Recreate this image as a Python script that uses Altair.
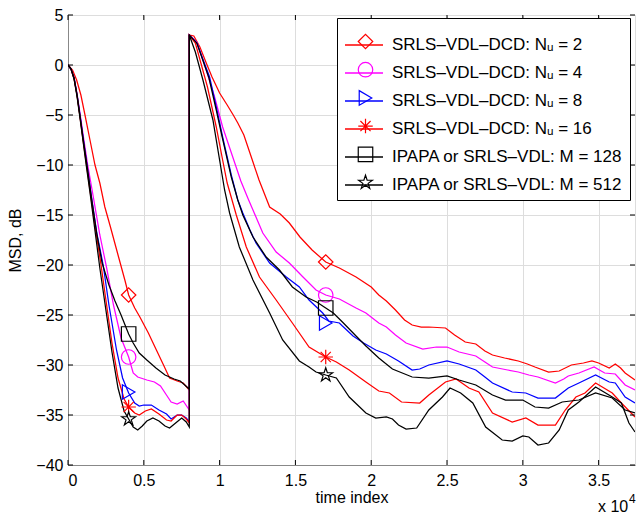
import altair as alt
import pandas as pd

# ---------------- data (x in units of 10^4 samples, y in dB) ----------------
SERIES = [
    "SRLS–VDL–DCD: Nᵤ = 2",
    "SRLS–VDL–DCD: Nᵤ = 4",
    "SRLS–VDL–DCD: Nᵤ = 8",
    "SRLS–VDL–DCD: Nᵤ = 16",
    "IPAPA or SRLS–VDL: M = 128",
    "IPAPA or SRLS–VDL: M = 512",
]
MARKER_KEYS = ["m1", "m2", "m3", "m4", "m5", "m6"]
COLORS = ["#ff0000", "#ff00ff", "#0000ff", "#ff0000", "#000000", "#000000"]
ASTERISK = "M-1,0L1,0M0,-1L0,1M-0.7,-0.7L0.7,0.7M-0.7,0.7L0.7,-0.7"
STAR = ("M0,-1L0.225,-0.309L0.951,-0.309L0.363,0.118L0.588,0.809L0,0.382"
        "L-0.588,0.809L-0.363,0.118L-0.951,-0.309L-0.225,-0.309Z")
SHAPES = ["diamond", "circle", "triangle-right", ASTERISK, "square", STAR]

nu2 = [(0, 0), (0.03, -0.5), (0.057, -1.5), (0.085, -3.0), (0.112, -5.0), (0.145, -7.5), (0.178, -10.0),
       (0.21, -11.8), (0.243, -14.2), (0.28, -16.2), (0.33, -19.0), (0.375, -21.5), (0.4, -23.0),
       (0.44, -24.3), (0.474, -25.2), (0.53, -26.8), (0.583, -28.5), (0.63, -30.0), (0.67, -31.3),
       (0.72, -31.6), (0.76, -31.8), (0.8, -32.5),
       (0.8, 3.0), (0.83, 2.9), (0.87, 1.8), (0.912, 0.2), (0.95, -1.2), (1.0, -2.8), (1.05, -4.0),
       (1.09, -5.0), (1.12, -5.8), (1.16, -7.0), (1.2, -8.8), (1.26, -11.5), (1.33, -14.2), (1.4, -14.9),
       (1.46, -15.8), (1.53, -17.2), (1.61, -18.5), (1.7, -19.7), (1.79, -20.3), (1.9, -21.2),
       (2.0, -22.2), (2.05, -23.0), (2.1, -23.6), (2.16, -24.5), (2.22, -25.5), (2.27, -26.0),
       (2.33, -26.2), (2.38, -26.2), (2.49, -26.3), (2.55, -27.0), (2.62, -27.7), (2.69, -27.9),
       (2.75, -28.6), (2.8, -29.0), (2.88, -29.3), (2.97, -29.6), (3.03, -29.9), (3.08, -30.2),
       (3.17, -30.7), (3.24, -30.6), (3.32, -30.0), (3.4, -29.8), (3.456, -29.6), (3.5, -29.8),
       (3.57, -30.3), (3.61, -29.9), (3.645, -30.3), (3.675, -30.8), (3.74, -31.5)]

nu4 = [(0, 0), (0.02, -0.4), (0.04, -1.3), (0.06, -2.9), (0.08, -4.9), (0.1, -7.0), (0.13, -10.0),
       (0.167, -13.2), (0.21, -17.0), (0.255, -20.3), (0.3, -24.0), (0.35, -27.3), (0.4, -29.2),
       (0.43, -30.8), (0.46, -31.2), (0.52, -31.5), (0.57, -31.7), (0.61, -32.1), (0.645, -32.9),
       (0.68, -33.7), (0.72, -33.9), (0.76, -33.6), (0.8, -34.5),
       (0.8, 3.0), (0.85, 2.3), (0.912, -0.5), (0.967, -3.2), (1.02, -6.2), (1.06, -8.0), (1.1, -9.8),
       (1.14, -11.6), (1.186, -13.3), (1.22, -14.5), (1.285, -16.8), (1.373, -18.7), (1.46, -19.8),
       (1.55, -21.2), (1.636, -22.5), (1.7, -23.0), (1.79, -23.4), (1.9, -24.3), (1.965, -24.8),
       (2.05, -25.8), (2.1, -26.2), (2.16, -27.0), (2.23, -27.8), (2.34, -28.4), (2.43, -28.2),
       (2.5, -28.2), (2.58, -28.7), (2.69, -29.1), (2.75, -29.7), (2.8, -30.2), (2.9, -30.5),
       (2.97, -30.7), (3.04, -31.0), (3.1, -31.2), (3.215, -31.8), (3.27, -31.4), (3.3, -31.1),
       (3.37, -30.8), (3.47, -30.2), (3.54, -30.8), (3.61, -30.9), (3.675, -32.0), (3.74, -32.5)]

nu8 = [(0, 0), (0.02, -0.4), (0.04, -1.3), (0.06, -3.0), (0.08, -5.1), (0.1, -7.3), (0.125, -10.0),
       (0.155, -13.2), (0.19, -16.8), (0.232, -20.0), (0.27, -24.0), (0.32, -28.5), (0.36, -31.3),
       (0.4, -32.8), (0.44, -33.8), (0.47, -34.1), (0.5, -34.0), (0.55, -34.0), (0.6, -34.5),
       (0.65, -34.9), (0.68, -35.4), (0.72, -35.0), (0.75, -35.0), (0.78, -35.3), (0.8, -35.7),
       (0.8, 3.0), (0.85, 2.2), (0.934, -1.2), (0.978, -4.2), (1.02, -7.2), (1.077, -11.0), (1.12, -13.5),
       (1.153, -14.8), (1.2, -16.5), (1.24, -17.8), (1.33, -19.8), (1.44, -21.2), (1.526, -22.2),
       (1.59, -23.5), (1.68, -24.8), (1.72, -25.6), (1.79, -25.8), (1.81, -26.1), (1.88, -27.1),
       (1.95, -27.8), (2.03, -28.5), (2.1, -28.9), (2.18, -29.6), (2.27, -30.5), (2.32, -30.4),
       (2.38, -30.0), (2.5, -29.6), (2.58, -29.9), (2.69, -30.5), (2.75, -31.2), (2.8, -31.8),
       (2.93, -32.7), (3.02, -32.8), (3.1, -33.3), (3.215, -33.3), (3.3, -32.3), (3.37, -31.8),
       (3.48, -31.0), (3.57, -31.7), (3.61, -31.8), (3.675, -33.2), (3.74, -33.8)]

nu16 = [(0, 0), (0.02, -0.4), (0.04, -1.4), (0.06, -3.1), (0.08, -5.3), (0.1, -7.6), (0.122, -10.0),
        (0.152, -13.3), (0.185, -16.8), (0.218, -20.0), (0.25, -23.5), (0.29, -27.8), (0.33, -31.3),
        (0.37, -33.4), (0.4, -34.2), (0.44, -34.8), (0.47, -35.0), (0.51, -34.6), (0.55, -34.4),
        (0.6, -34.9), (0.65, -35.5), (0.68, -35.6), (0.72, -35.0), (0.75, -35.0), (0.78, -35.4),
        (0.8, -35.8),
        (0.8, 3.0), (0.84, 2.2), (0.92, -2.2), (0.978, -6.2), (1.02, -9.5), (1.05, -11.8), (1.11, -15.0),
        (1.176, -18.2), (1.263, -21.2), (1.373, -23.5), (1.48, -25.8), (1.59, -28.2), (1.7, -29.2),
        (1.77, -29.7), (1.855, -30.5), (1.965, -31.7), (2.05, -32.6), (2.12, -32.8), (2.2, -33.7),
        (2.32, -33.8), (2.38, -33.0), (2.49, -31.7), (2.56, -31.4), (2.645, -32.3), (2.71, -32.7),
        (2.8, -34.8), (2.93, -35.7), (3.02, -35.3), (3.1, -36.0), (3.215, -36.0), (3.28, -34.5),
        (3.35, -33.2), (3.41, -32.8), (3.48, -31.8), (3.59, -32.8), (3.65, -33.8), (3.74, -35.2)]

m128 = [(0, 0), (0.02, -0.4), (0.04, -1.3), (0.06, -3.0), (0.08, -5.2), (0.1, -7.4), (0.125, -10.0),
        (0.155, -13.3), (0.19, -16.9), (0.225, -19.8), (0.27, -22.0), (0.31, -23.6), (0.35, -25.0),
        (0.4, -26.9), (0.43, -27.8), (0.47, -28.8), (0.52, -29.5), (0.58, -30.3), (0.64, -31.0),
        (0.7, -31.4), (0.74, -31.6), (0.77, -32.0), (0.8, -32.4),
        (0.8, 3.0), (0.85, 2.2), (0.93, -1.3), (0.978, -4.5), (1.02, -7.4), (1.077, -11.2), (1.12, -13.5),
        (1.153, -15.0), (1.22, -17.2), (1.307, -19.2), (1.395, -20.5), (1.48, -22.2), (1.57, -23.2),
        (1.64, -23.7), (1.7, -24.3), (1.75, -24.8), (1.81, -25.7), (1.9, -27.1), (1.965, -28.1),
        (2.05, -29.3), (2.14, -30.4), (2.27, -31.2), (2.38, -31.3), (2.5, -31.1), (2.58, -31.5),
        (2.69, -32.0), (2.8, -33.0), (2.886, -33.5), (3.0, -33.5), (3.08, -34.2), (3.17, -34.3),
        (3.26, -33.7), (3.37, -33.5), (3.48, -32.8), (3.59, -33.3), (3.675, -34.5), (3.74, -34.8)]

m512 = [(0, 0), (0.02, -0.4), (0.04, -1.4), (0.06, -3.2), (0.08, -5.4), (0.1, -7.7), (0.12, -10.0),
        (0.15, -13.3), (0.18, -16.8), (0.21, -20.3), (0.25, -24.5), (0.29, -28.7), (0.33, -32.3),
        (0.37, -34.6), (0.4, -35.4), (0.43, -36.2), (0.46, -36.5), (0.49, -36.1), (0.52, -35.6),
        (0.56, -35.3), (0.6, -35.6), (0.64, -36.1), (0.67, -36.3), (0.71, -35.8), (0.75, -35.3),
        (0.78, -35.7), (0.8, -36.2),
        (0.8, 3.0), (0.84, 1.3), (0.89, -1.5), (0.956, -5.5), (1.0, -9.5), (1.033, -12.5), (1.066, -14.8),
        (1.13, -18.2), (1.22, -21.5), (1.33, -24.8), (1.416, -27.5), (1.526, -29.6), (1.59, -30.2),
        (1.636, -30.7), (1.7, -31.0), (1.77, -31.3), (1.855, -33.2), (1.965, -34.8), (2.03, -35.3),
        (2.1, -35.2), (2.14, -35.4), (2.18, -36.0), (2.23, -36.4), (2.3, -36.3), (2.38, -34.5),
        (2.47, -33.2), (2.52, -32.3), (2.59, -32.8), (2.67, -33.8), (2.755, -36.2), (2.864, -37.5),
        (2.93, -37.6), (3.0, -37.1), (3.04, -37.2), (3.1, -38.0), (3.17, -37.8), (3.24, -36.5),
        (3.3, -34.5), (3.37, -33.7), (3.48, -32.2), (3.59, -33.2), (3.65, -33.8), (3.7, -35.8),
        (3.74, -36.7)]

CURVES = [nu2, nu4, nu8, nu16, m128, m512]

MARKER_X = [0.4, 1.7]
MARKER_Y = [[-23.0, -19.7], [-29.2, -23.0], [-32.7, -25.8], [-34.2, -29.2], [-26.9, -24.3], [-35.4, -31.0]]

X_TICKS = [0, 0.5, 1, 1.5, 2, 2.5, 3, 3.5]
Y_TICKS = [5, 0, -5, -10, -15, -20, -25, -30, -35, -40]

# ---------------- tables ----------------
rows = []
for name, pts in zip(SERIES, CURVES):
    for k, (xv, yv) in enumerate(pts):
        rows.append({"curve": name, "x": xv, "y": yv, "k": k})
lines_df = pd.DataFrame(rows)

mrows = []
for key, ys in zip(MARKER_KEYS, MARKER_Y):
    for xv, yv in zip(MARKER_X, ys):
        mrows.append({"mk": key, "x": xv, "y": yv})
marks_df = pd.DataFrame(mrows)

xt_df = pd.DataFrame({"v": X_TICKS})
yt_df = pd.DataFrame({"v": Y_TICKS})

FONT = "Liberation Sans"
W, H = 567, 450

xscale = alt.Scale(domain=[0, 3.74], nice=False, zero=False)
yscale = alt.Scale(domain=[-40, 5], nice=False, zero=False)

xaxis = alt.Axis(values=X_TICKS, format="~g", title="time index", grid=True, ticks=False,
                 labelFontSize=16, titleFontSize=16, titleFontWeight="normal",
                 labelPadding=7, titlePadding=1)
yaxis = alt.Axis(values=Y_TICKS, title="MSD, dB", grid=True, ticks=False,
                 labelFontSize=16, titleFontSize=16, titleFontWeight="normal",
                 labelPadding=5, titlePadding=12)

line_legend = alt.Legend(
    title=None, orient="none", legendX=269, legendY=3, zindex=1,
    symbolType="stroke", symbolSize=1444, symbolStrokeWidth=1.3,
    labelFont=FONT, labelFontSize=17, labelColor="black", labelLimit=500, labelOffset=8,
    strokeColor="black", fillColor="white", padding=7, rowPadding=0,
)
shape_legend = alt.Legend(
    title=None, orient="none", legendX=282, legendY=11, zindex=2,
    symbolSize=210, symbolStrokeWidth=1.2, symbolFillColor="transparent",
    labelFont=FONT, labelFontSize=17, labelOpacity=0, labelExpr="' '", labelOffset=2,
    padding=7, rowPadding=7.2,
)

lines = alt.Chart(lines_df).mark_line(strokeWidth=1.25, clip=True).encode(
    x=alt.X("x:Q", scale=xscale, axis=xaxis),
    y=alt.Y("y:Q", scale=yscale, axis=yaxis),
    stroke=alt.Stroke("curve:N", scale=alt.Scale(domain=SERIES, range=COLORS),
                      legend=line_legend, sort=SERIES),
    order=alt.Order("k:Q"),
)

points = alt.Chart(marks_df).mark_point(filled=False, size=210, strokeWidth=1.2, opacity=1).encode(
    x=alt.X("x:Q", scale=xscale),
    y=alt.Y("y:Q", scale=yscale),
    color=alt.Color("mk:N", scale=alt.Scale(domain=MARKER_KEYS, range=COLORS),
                    legend=shape_legend, sort=MARKER_KEYS),
    shape=alt.Shape("mk:N", scale=alt.Scale(domain=MARKER_KEYS, range=SHAPES),
                    legend=shape_legend, sort=MARKER_KEYS),
)

# inward MATLAB-style ticks on all four sides
tick_style = dict(color="black", strokeWidth=1)
xt_bottom = alt.Chart(xt_df).mark_rule(**tick_style).encode(
    x=alt.X("v:Q", scale=xscale), y=alt.value(H - 5), y2=alt.value(H))
xt_top = alt.Chart(xt_df).mark_rule(**tick_style).encode(
    x=alt.X("v:Q", scale=xscale), y=alt.value(0), y2=alt.value(5))
yt_left = alt.Chart(yt_df).mark_rule(**tick_style).encode(
    y=alt.Y("v:Q", scale=yscale), x=alt.value(0), x2=alt.value(5))
yt_right = alt.Chart(yt_df).mark_rule(**tick_style).encode(
    y=alt.Y("v:Q", scale=yscale), x=alt.value(W - 5), x2=alt.value(W))

exp_base = alt.Chart(pd.DataFrame({"t": ["x 10"]})).mark_text(
    align="left", baseline="alphabetic", font=FONT, fontSize=16, color="black"
).encode(x=alt.value(530), y=alt.value(497), text="t:N")
exp_sup = alt.Chart(pd.DataFrame({"t": ["4"]})).mark_text(
    align="left", baseline="alphabetic", font=FONT, fontSize=12, color="black"
).encode(x=alt.value(561), y=alt.value(488), text="t:N")

chart = alt.layer(lines, points, xt_bottom, xt_top, yt_left, yt_right, exp_base, exp_sup).properties(
    width=W, height=H,
    autosize=alt.AutoSizeParams(type="none"),
    padding={"left": 68, "top": 15, "right": 1, "bottom": 49},
).configure_view(stroke="black", strokeWidth=1).configure_axis(
    labelFont=FONT, titleFont=FONT, labelColor="black", titleColor="black",
    domainColor="black", tickColor="black", gridColor="#333333", gridDash=[1, 3],
    gridWidth=1, gridOpacity=1,
).configure(background="white")

chart.save("out.html", embed_options={"renderer": "svg", "actions": False})
